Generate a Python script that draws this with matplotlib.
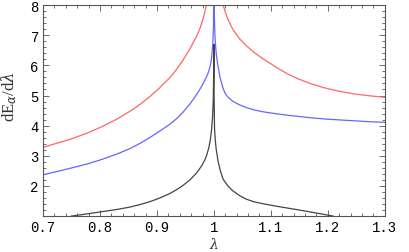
import numpy as np
import matplotlib.pyplot as plt
from matplotlib.ticker import MultipleLocator

# values
lam_red = [0.70, 0.725, 0.753, 0.78, 0.805, 0.83, 0.853, 0.870, 0.888, 0.905, 0.923, 0.935,
           0.946, 0.958, 0.970, 0.976, 0.981, 0.987, 0.992,
           1.010, 1.016, 1.024, 1.033, 1.045, 1.057, 1.071, 1.086, 1.100, 1.115, 1.131, 1.147,
           1.170, 1.195, 1.220, 1.247, 1.273, 1.30]
dE_red = [3.28, 3.42, 3.58, 3.77, 3.98, 4.22, 4.48, 4.70, 4.97, 5.26, 5.60, 5.88,
          6.18, 6.55, 6.98, 7.25, 7.54, 8.00, 8.50,
          8.50, 8.00, 7.55, 7.20, 6.88, 6.65, 6.42, 6.22, 6.05, 5.87, 5.70, 5.56,
          5.39, 5.25, 5.14, 5.05, 4.99, 4.94]

lam_blue = [0.70, 0.725, 0.753, 0.78, 0.805, 0.83, 0.853, 0.870, 0.888, 0.905, 0.923, 0.935,
            0.946, 0.958, 0.970, 0.979, 0.987, 0.991, 0.994, 0.996, 0.998, 0.9993, 1.0,
            1.0008, 1.002, 1.004, 1.007, 1.011, 1.016, 1.020, 1.024, 1.033, 1.045, 1.057, 1.071,
            1.086, 1.100, 1.115, 1.131, 1.147, 1.170, 1.195, 1.220, 1.247, 1.273, 1.30]
dE_blue = [2.37, 2.48, 2.61, 2.74, 2.89, 3.06, 3.24, 3.41, 3.61, 3.82, 4.05, 4.24,
           4.45, 4.72, 5.04, 5.32, 5.62, 5.80, 6.02, 6.25, 6.70, 7.30, 10.0,
           7.60, 6.90, 6.40, 5.99, 5.58, 5.24, 5.06, 4.96, 4.81, 4.69, 4.60, 4.52,
           4.46, 4.42, 4.38, 4.34, 4.31, 4.26, 4.22, 4.19, 4.16, 4.13, 4.11]

lam_black = [0.750, 0.78, 0.805, 0.83, 0.853, 0.870, 0.888, 0.905, 0.923, 0.935, 0.946,
             0.958, 0.970, 0.979, 0.984, 0.987, 0.991, 0.994, 0.996, 0.9975, 0.9988, 0.9996, 1.0,
             1.0003, 1.0011, 1.0025, 1.004, 1.007, 1.011, 1.016, 1.024, 1.033, 1.045, 1.057,
             1.071, 1.086, 1.100, 1.115, 1.131, 1.147, 1.162, 1.177, 1.192, 1.209]
dE_black = [1.00, 1.08, 1.15, 1.22, 1.30, 1.38, 1.48, 1.60, 1.75, 1.88, 2.02,
            2.20, 2.44, 2.68, 2.86, 3.00, 3.26, 3.56, 3.88, 4.25, 4.80, 5.70, 6.70,
            5.00, 3.90, 3.50, 3.22, 2.85, 2.52, 2.23, 2.01, 1.84, 1.68, 1.56,
            1.47, 1.41, 1.36, 1.31, 1.26, 1.21, 1.16, 1.11, 1.06, 1.00]

plt.rcParams['mathtext.fontset'] = 'dejavuserif'

fig = plt.figure(figsize=(4.09, 2.53), dpi=100)
ax = fig.add_axes([0.105, 0.142, 0.836, 0.834])

ax.plot(lam_red, dE_red, color='#ff6666', lw=0.9)
ax.plot(lam_blue, dE_blue, color='#6666ff', lw=0.9)
ax.plot(lam_black, dE_black, color='#444444', lw=0.9)

ax.set_xlim(0.7, 1.3)
ax.set_ylim(1, 8)
ax.xaxis.set_minor_locator(MultipleLocator(0.02))
ax.yaxis.set_minor_locator(MultipleLocator(0.2))
ax.set_xticks([0.7, 0.8, 0.9, 1.0, 1.1, 1.2, 1.3])
ax.set_xticklabels(['0.7', '0.8', '0.9', '1', '1.1', '1.2', '1.3'],
                   family='Liberation Mono', fontsize=10)
ax.set_yticks([2, 3, 4, 5, 6, 7, 8])
ax.set_yticklabels(['2', '3', '4', '5', '6', '7', '8'], family='Liberation Mono', fontsize=10)

ax.tick_params(which='both', direction='in', top=True, right=True, color='#555555', width=0.6)
ax.tick_params(which='major', length=4, pad=3)
ax.tick_params(which='minor', length=2)
for s in ax.spines.values():
    s.set_color('#555555')
    s.set_linewidth(0.8)

ax.set_xlabel(r'$\lambda$', fontsize=10, labelpad=1, color='#333333')
ax.set_ylabel(r'dE$_\alpha$/d$\lambda$', family='Liberation Serif', fontsize=12, color='#333333')
ax.yaxis.set_label_coords(-0.07, 0.57)

fig.savefig('out.png', dpi=100)
